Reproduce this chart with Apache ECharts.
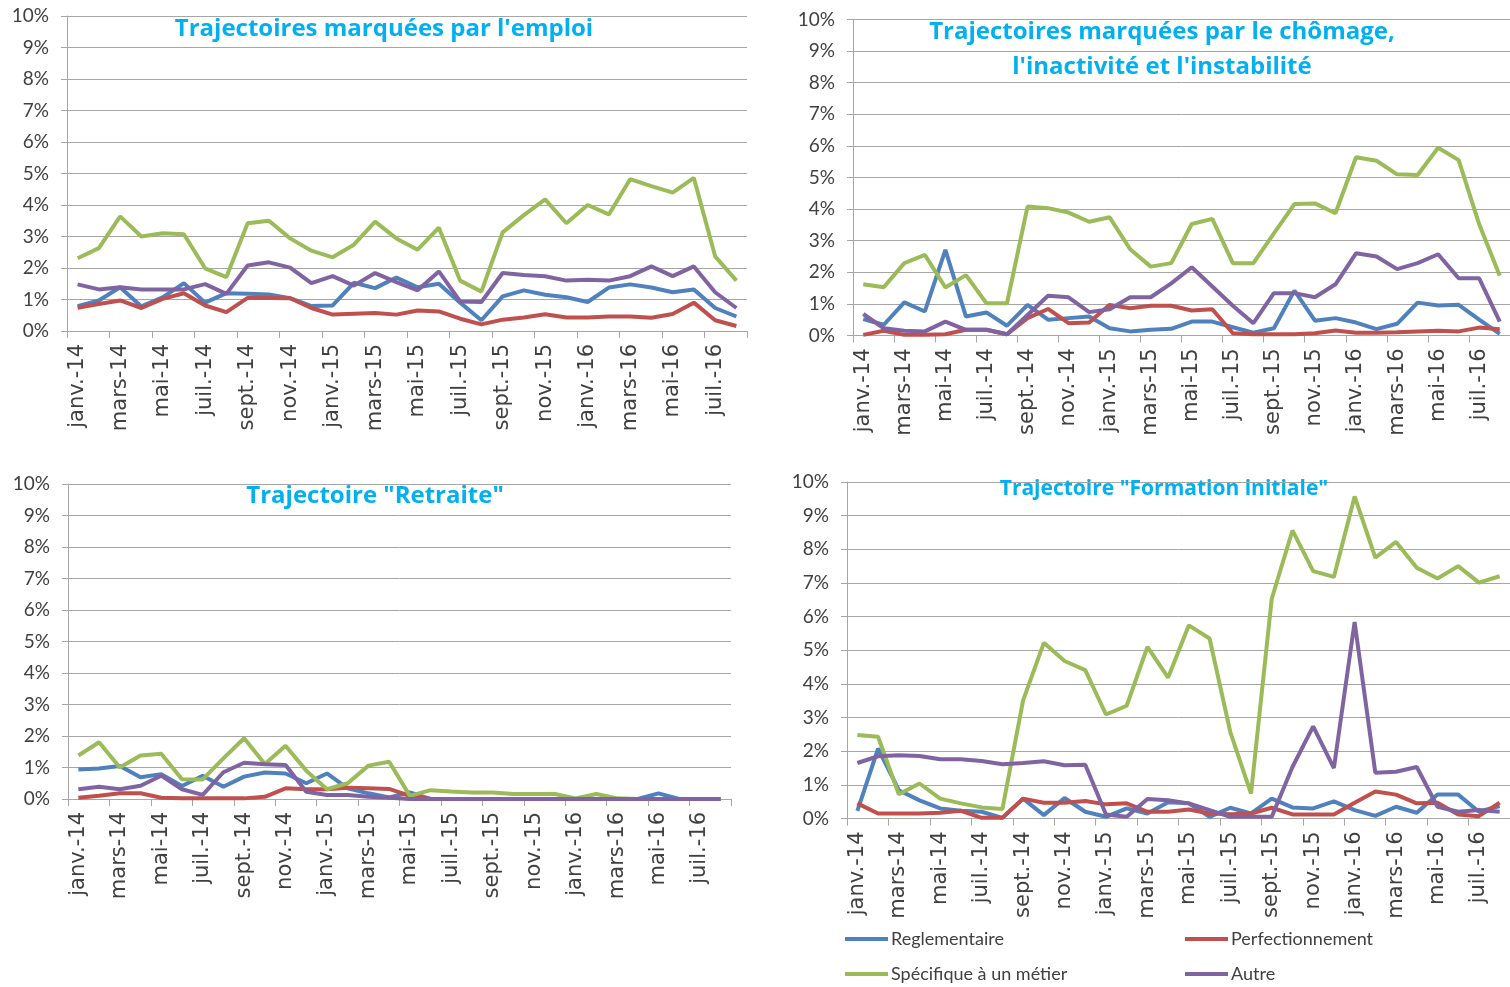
<!DOCTYPE html>
<html><head><meta charset="utf-8">
<script src="https://cdn.jsdelivr.net/npm/echarts@6/dist/echarts.min.js"></script>
<style>html,body{margin:0;padding:0;background:#fff}#c{width:1510px;height:987px}</style>
</head><body><div id="c"></div>
<script>
const months = ['janv.-14','févr.-14','mars-14','avr.-14','mai-14','juin-14','juil.-14','août-14','sept.-14','oct.-14','nov.-14','déc.-14',
  'janv.-15','févr.-15','mars-15','avr.-15','mai-15','juin-15','juil.-15','août-15','sept.-15','oct.-15','nov.-15','déc.-15',
  'janv.-16','févr.-16','mars-16','avr.-16','mai-16','juin-16','juil.-16','août-16'];
const seriesNames = ['Reglementaire','Perfectionnement','Spécifique à un métier','Autre'];
const yTicks = [0,1,2,3,4,5,6,7,8,9,10];

// Trajectoires marquées par l'emploi
const emploiReg  = [0.79,0.97,1.39,0.78,1.07,1.52,0.9,1.2,1.18,1.16,1.04,0.79,0.81,1.53,1.36,1.7,1.39,1.5,0.9,0.34,1.1,1.29,1.15,1.07,0.92,1.38,1.48,1.38,1.23,1.32,0.73,0.46];
const emploiPerf = [0.74,0.86,0.97,0.73,1.02,1.2,0.81,0.6,1.05,1.05,1.04,0.73,0.52,0.55,0.57,0.52,0.65,0.62,0.39,0.21,0.36,0.43,0.53,0.43,0.43,0.46,0.46,0.42,0.54,0.9,0.34,0.16];
const emploiSpec = [2.31,2.63,3.64,3.0,3.1,3.07,1.99,1.71,3.42,3.5,2.94,2.55,2.34,2.74,3.47,2.94,2.58,3.28,1.6,1.25,3.13,3.68,4.18,3.42,4.0,3.7,4.82,4.6,4.39,4.86,2.37,1.6];
const emploiAutre= [1.48,1.32,1.39,1.32,1.32,1.32,1.49,1.18,2.08,2.18,2.01,1.52,1.74,1.44,1.84,1.55,1.29,1.89,0.94,0.92,1.84,1.78,1.74,1.6,1.63,1.6,1.74,2.05,1.74,2.05,1.23,0.73];

// Trajectoires marquées par le chômage, l'inactivité et l'instabilité
const chomReg  = [0.52,0.34,1.05,0.76,2.71,0.6,0.73,0.31,0.97,0.5,0.55,0.6,0.23,0.13,0.18,0.21,0.44,0.44,0.26,0.09,0.23,1.42,0.47,0.55,0.41,0.2,0.37,1.04,0.95,0.97,0.5,0.05];
const chomPerf = [0.02,0.15,0.02,0.02,0.04,0.18,0.18,0.04,0.55,0.84,0.39,0.41,0.97,0.86,0.94,0.94,0.79,0.83,0.07,0.04,0.04,0.04,0.07,0.16,0.09,0.09,0.1,0.13,0.15,0.13,0.25,0.2];
const chomSpec = [1.62,1.53,2.29,2.55,1.52,1.91,1.02,1.02,4.08,4.03,3.89,3.6,3.74,2.73,2.18,2.29,3.53,3.69,2.29,2.29,3.23,4.16,4.18,3.87,5.64,5.53,5.1,5.08,5.94,5.55,3.52,1.89];
const chomAutre= [0.68,0.23,0.15,0.13,0.44,0.18,0.18,0.04,0.65,1.26,1.21,0.74,0.83,1.21,1.21,1.65,2.16,1.55,0.94,0.39,1.34,1.34,1.21,1.62,2.6,2.5,2.1,2.29,2.57,1.81,1.81,0.44];

// Trajectoire "Retraite"
const retrReg  = [0.94,0.97,1.05,0.69,0.79,0.41,0.74,0.39,0.71,0.84,0.81,0.5,0.81,0.34,0.18,0.05,0.21,0,0,0,0,0,0,0,0,0,0,0,0.18,0,0,0];
const retrPerf = [0.04,0.1,0.18,0.18,0.04,0.02,0.02,0.02,0.02,0.07,0.34,0.31,0.31,0.36,0.34,0.32,0.1,0,0,0,0,0,0,0,0,0,0,0,0,0,0,0];
const retrSpec = [1.38,1.8,1.0,1.38,1.44,0.63,0.62,1.29,1.93,1.11,1.69,0.9,0.31,0.5,1.06,1.18,0.1,0.28,0.24,0.21,0.21,0.16,0.16,0.16,0.02,0.16,0.02,0,0,0,0,0];
const retrAutre= [0.31,0.39,0.31,0.42,0.74,0.31,0.13,0.85,1.15,1.1,1.08,0.23,0.13,0.13,0.07,0.04,0,0,0,0,0,0,0,0,0,0,0,0,0,0,0,0];

// Trajectoire "Formation initiale"
const formReg  = [0.23,2.08,0.84,0.54,0.3,0.23,0.2,0.02,0.59,0.1,0.61,0.2,0.05,0.3,0.15,0.48,0.45,0.05,0.32,0.15,0.59,0.33,0.3,0.51,0.25,0.08,0.35,0.17,0.71,0.71,0.2,0.37];
const formPerf = [0.45,0.15,0.15,0.15,0.17,0.23,0.02,0.02,0.59,0.47,0.47,0.52,0.42,0.45,0.2,0.2,0.27,0.15,0.13,0.15,0.32,0.12,0.12,0.12,0.47,0.8,0.71,0.45,0.47,0.12,0.07,0.47];
const formSpec = [2.48,2.43,0.72,1.04,0.59,0.45,0.33,0.28,3.51,5.22,4.68,4.41,3.09,3.35,5.1,4.19,5.74,5.35,2.57,0.74,6.53,8.56,7.35,7.18,9.57,7.75,8.22,7.45,7.13,7.5,7.01,7.2];
const formAutre= [1.65,1.85,1.88,1.86,1.76,1.76,1.71,1.61,1.65,1.7,1.58,1.6,0.12,0.05,0.58,0.54,0.45,0.25,0.05,0.05,0.05,1.53,2.74,1.5,5.84,1.36,1.39,1.53,0.35,0.2,0.25,0.2];

const panelTitles = [["Trajectoires marquées par l'emploi"],
  ["Trajectoires marquées par le chômage,","l'inactivité et l'instabilité"],
  ['Trajectoire "Retraite"'],
  ['Trajectoire "Formation initiale"']];

const panels = [
  [emploiReg, emploiPerf, emploiSpec, emploiAutre],
  [chomReg, chomPerf, chomSpec, chomAutre],
  [retrReg, retrPerf, retrSpec, retrAutre],
  [formReg, formPerf, formSpec, formAutre]
];

const colors = ['#4F81BD','#C0504D','#9BBB59','#8064A2'];
const grids = [
  {left:67, top:16, width:680, height:315},
  {left:853, top:19.5, width:663, height:316},
  {left:68, top:484, width:663, height:315},
  {left:847, top:482, width:674, height:336.5}
];
const titlePos = [
  {x:384, y:[29], size:24},
  {x:1162, y:[32,67], size:24},
  {x:375, y:[496], size:24},
  {x:1164, y:[489], size:21}
];

const axisColor = '#a6a6a6';
const labelColor = '#404040';

const xAxes = [], yAxes = [], series = [], graphics = [];
grids.forEach((g, gi) => {
  xAxes.push({
    type:'category', gridIndex:gi, data:months, boundaryGap:true,
    axisLine:{show:true, lineStyle:{color:axisColor, width:1}},
    axisTick:{show:true, interval:1, length:7, lineStyle:{color:axisColor}},
    axisLabel:{interval:1, rotate:90, margin:13, color:labelColor, fontFamily:'DejaVu Sans', fontSize:21},
    splitLine:{show:false}
  });
  yAxes.push({
    type:'value', gridIndex:gi, min:yTicks[0], max:yTicks[yTicks.length-1], interval:1,
    axisLine:{show:true, lineStyle:{color:axisColor, width:1}},
    axisTick:{show:true, length:6, lineStyle:{color:axisColor}},
    axisLabel:{formatter:'{value}%', margin:18, color:labelColor, fontFamily:'Lato', fontSize:19},
    splitLine:{show:true, lineStyle:{color:axisColor, width:1}}
  });
  panels[gi].forEach((vals, si) => {
    series.push({
      type:'line', name:seriesNames[si], xAxisIndex:gi, yAxisIndex:gi, data:vals,
      symbol:'none', smooth:false, color:colors[si],
      lineStyle:{width:4, color:colors[si]}, z:2+si
    });
  });
  panelTitles[gi].forEach((t, li) => {
    graphics.push({type:'text', x:titlePos[gi].x, y:titlePos[gi].y[li], z:100,
      style:{text:t, fill:'#00B0F0', font:'bold '+titlePos[gi].size+'px "Open Sans"', textAlign:'center', textVerticalAlign:'middle'}});
  });
});

const legendBase = {orient:'horizontal', icon:'rect', itemWidth:43, itemHeight:4, itemGap:0,
  textStyle:{color:labelColor, fontFamily:'Lato', fontSize:18, lineHeight:20, padding:[0,0,0,-2]}};
const legendSpots = [
  {name:seriesNames[0], left:845, top:929},
  {name:seriesNames[1], left:1185, top:929},
  {name:seriesNames[2], left:845, top:964},
  {name:seriesNames[3], left:1185, top:964}
];
const option = {
  animation:false,
  grid:grids,
  xAxis:xAxes, yAxis:yAxes, series:series,
  graphic:graphics,
  legend:legendSpots.map(s => Object.assign({}, legendBase, {data:[s.name], left:s.left, top:s.top, padding:0}))
};
const chart = echarts.init(document.getElementById('c'), null, {renderer:'canvas'});
chart.setOption(option);
</script></body></html>
